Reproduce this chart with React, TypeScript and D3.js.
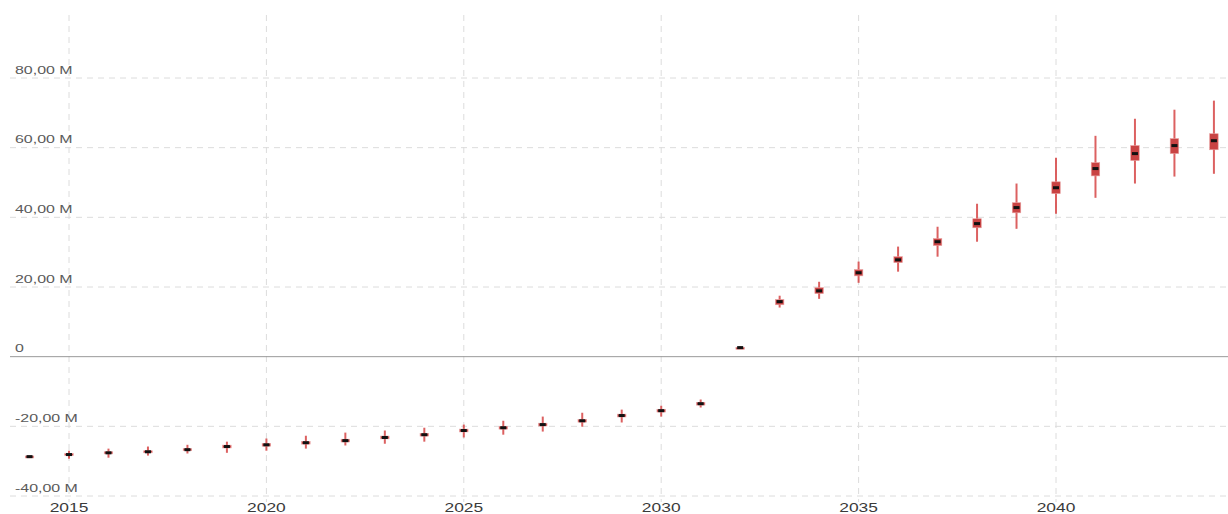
import { useEffect, useRef } from "react";
import * as d3 from "d3";

// valores em milhões por ano (mediana, caixa e bigodes)
const years = [2014, 2015, 2016, 2017, 2018, 2019, 2020, 2021, 2022, 2023, 2024, 2025, 2026, 2027, 2028, 2029, 2030, 2031, 2032, 2033, 2034, 2035, 2036, 2037, 2038, 2039, 2040, 2041, 2042, 2043, 2044];
const median = [-28.7, -28.1, -27.6, -27.3, -26.7, -25.8, -25.3, -24.7, -24.1, -23.2, -22.4, -21.2, -20.4, -19.5, -18.4, -16.9, -15.5, -13.5, 2.6, 15.8, 18.9, 24.1, 27.8, 33.0, 38.2, 42.8, 48.5, 54.0, 58.3, 60.6, 62.0];
const q3 = [-28.5, -27.8, -27.3, -27.0, -26.4, -25.4, -24.9, -24.3, -23.7, -22.8, -22.0, -20.8, -20.0, -19.1, -18.0, -16.5, -15.1, -13.1, 2.7, 16.4, 19.8, 25.0, 28.7, 33.9, 39.6, 44.2, 50.2, 55.7, 60.6, 62.6, 64.0];
const q1 = [-28.9, -28.4, -27.9, -27.6, -27.0, -26.2, -25.7, -25.1, -24.5, -23.6, -22.8, -21.6, -20.8, -19.9, -18.8, -17.3, -15.9, -13.9, 2.4, 14.9, 18.1, 23.2, 27.0, 31.9, 37.0, 41.3, 46.8, 51.9, 56.3, 58.3, 59.4];
const high = [-28.6, -27.0, -26.4, -25.8, -25.3, -24.4, -23.5, -22.7, -21.8, -21.2, -20.4, -19.5, -18.4, -17.2, -16.1, -15.2, -14.1, -12.3, 2.9, 17.5, 21.5, 27.3, 31.6, 37.3, 43.9, 49.7, 57.1, 63.4, 68.3, 70.9, 73.5];
const low = [-28.8, -29.3, -29.0, -28.4, -27.8, -27.6, -27.0, -26.4, -25.5, -25.0, -24.4, -23.2, -22.4, -21.5, -20.1, -18.9, -17.2, -14.6, 2.3, 14.1, 16.6, 21.2, 24.4, 28.7, 33.0, 36.7, 41.0, 45.6, 49.7, 51.7, 52.5];
const yTicks = [-40, -20, 0, 20, 40, 60, 80];
const xTicks = [2015, 2020, 2025, 2030, 2035, 2040];

export default function App() {
  const svgRef = useRef<SVGSVGElement>(null);

  useEffect(() => {
    document.body.style.margin = "0";
    const width = 1228;
    const height = 514;
    const left = 10;
    const stretch = 1.45; // o texto do original é esticado na horizontal

    const svg = d3.select(svgRef.current!);
    svg.selectAll("*").remove();
    svg.attr("width", width).attr("height", height);

    const x = d3.scaleLinear().domain([2015, 2040]).range([69, 1056]);
    const y = d3.scaleLinear().domain([-40, 80]).range([496, 78]);

    const locale = d3.formatLocale({ decimal: ",", thousands: ".", grouping: [3], currency: ["", ""], minus: "-" });
    const fmt = (d: number) => (d === 0 ? "0" : locale.format(".2f")(d) + " M");

    // grade vertical
    svg.append("g")
      .selectAll("line")
      .data(xTicks)
      .join("line")
      .attr("x1", d => x(d)).attr("x2", d => x(d))
      .attr("y1", 15).attr("y2", 502)
      .attr("stroke", "#dcdcdc")
      .attr("stroke-dasharray", "6,5");

    // grade horizontal
    svg.append("g")
      .selectAll("line")
      .data(yTicks.filter(d => d !== 0))
      .join("line")
      .attr("x1", left).attr("x2", width)
      .attr("y1", d => y(d)).attr("y2", d => y(d))
      .attr("stroke", "#dcdcdc")
      .attr("stroke-dasharray", "6,5");

    svg.append("line")
      .attr("x1", left).attr("x2", width)
      .attr("y1", y(0)).attr("y2", y(0))
      .attr("stroke", "#999")
      .attr("stroke-width", 1);

    svg.append("g")
      .selectAll("text")
      .data(yTicks)
      .join("text")
      .attr("transform", d => `translate(15,${y(d) - 4.5}) scale(${stretch},1)`)
      .attr("font-family", "'Liberation Sans', Arial, sans-serif")
      .attr("font-size", 11)
      .attr("fill", "#5a5a5a")
      .text(fmt);

    svg.append("g")
      .selectAll("text")
      .data(xTicks)
      .join("text")
      .attr("transform", d => `translate(${x(d)},512) scale(${stretch},1)`)
      .attr("text-anchor", "middle")
      .attr("font-family", "'Liberation Sans', Arial, sans-serif")
      .attr("font-size", 12)
      .attr("fill", "#3a3a3a")
      .text(d => d);

    const rows = years.map((yr, i) => ({ yr, med: median[i], q1: q1[i], q3: q3[i], lo: low[i], hi: high[i] }));
    const boxW = 8.5;

    const g = svg.append("g")
      .selectAll("g")
      .data(rows)
      .join("g")
      .attr("transform", d => `translate(${x(d.yr)},0)`);

    g.append("line")
      .attr("y1", d => y(d.hi)).attr("y2", d => y(d.lo))
      .attr("stroke", "#d64545")
      .attr("stroke-opacity", 0.85)
      .attr("stroke-width", 2);

    g.append("rect")
      .attr("x", -boxW / 2)
      .attr("width", boxW)
      .attr("y", d => y(d.q3))
      .attr("height", d => Math.max(2, y(d.q1) - y(d.q3)))
      .attr("fill", "#c94343")
      .attr("stroke", "#e8a0a0")
      .attr("stroke-width", 0.6);

    g.append("rect")
      .attr("x", -3)
      .attr("width", 6)
      .attr("y", d => y(d.med) - 1.5)
      .attr("height", 3)
      .attr("fill", "#111");
  }, []);

  return <svg ref={svgRef} style={{ display: "block" }}></svg>;
}
